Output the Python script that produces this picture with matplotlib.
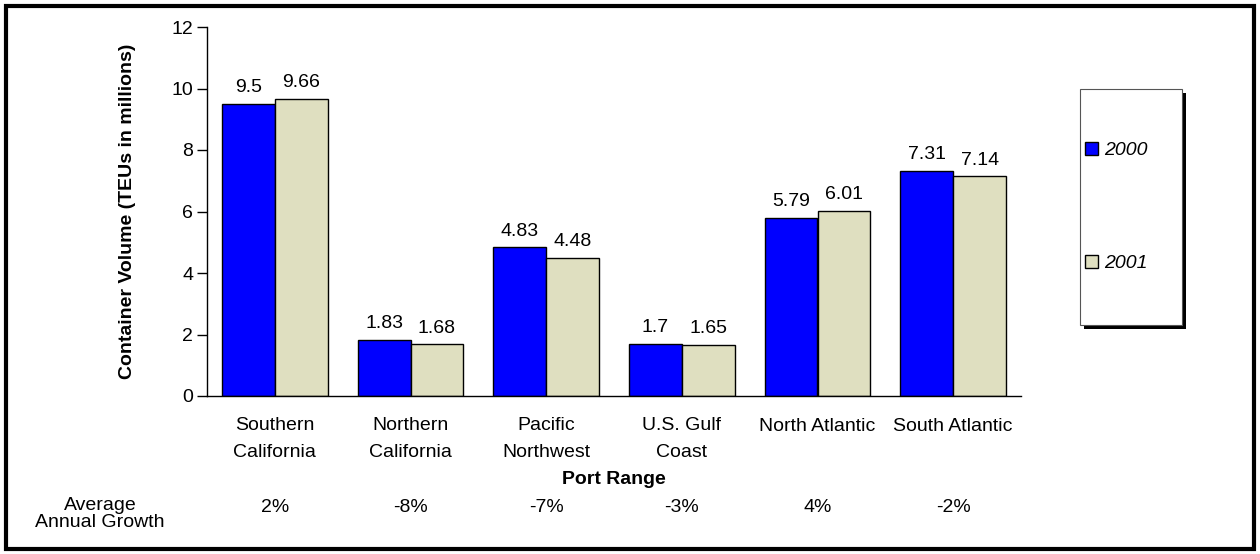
#!/usr/bin/env python3
"""Container volume by port range, 2000 vs 2001, with average annual growth row."""

import matplotlib

matplotlib.use("Agg")
import matplotlib.pyplot as plt
import matplotlib.transforms as mtransforms
import numpy as np
from matplotlib.patches import Rectangle

port_ranges = [
    "Southern\nCalifornia",
    "Northern\nCalifornia",
    "Pacific\nNorthwest",
    "U.S. Gulf\nCoast",
    "North Atlantic",
    "South Atlantic",
]
teu_2000 = [9.5, 1.83, 4.83, 1.7, 5.79, 7.31]
teu_2001 = [9.66, 1.68, 4.48, 1.65, 6.01, 7.14]
growth = ["2%", "-8%", "-7%", "-3%", "4%", "-2%"]
series_labels = ["2000", "2001"]
yticks = [0, 2, 4, 6, 8, 10, 12]

W, H = 1260, 554
FS = 14
LINE_PITCH = 26  # px between baselines of the category labels

plt.rcParams["font.family"] = ["Liberation Sans", "DejaVu Sans"]
plt.rcParams["font.size"] = FS

fig = plt.figure(figsize=(W / 100, H / 100), dpi=100)
ax = fig.add_axes([207 / W, (H - 396) / H, (1021 - 207) / W, (396 - 27) / H])

x = np.arange(len(port_ranges))
bw = 0.39
b1 = ax.bar(x - bw / 2, teu_2000, bw, color="#0000FF", edgecolor="black",
            linewidth=1, label=series_labels[0])
b2 = ax.bar(x + bw / 2, teu_2001, bw, color="#DFDFC0", edgecolor="black",
            linewidth=1, label=series_labels[1])

for bars, vals in ((b1, teu_2000), (b2, teu_2001)):
    for rect, v in zip(bars, vals):
        ax.annotate(f"{v:g}", (rect.get_x() + rect.get_width() / 2, v),
                    xytext=(0, 8.5), textcoords="offset points",
                    ha="center", va="baseline", fontsize=FS)

ax.set_xlim(-0.5, len(port_ranges) - 0.5)
ax.set_ylim(0, 12)
ax.set_yticks(yticks)
ax.tick_params(axis="y", direction="out", length=7, width=1, pad=3,
               labelsize=FS)
ax.set_xticks([])
for side in ("top", "right"):
    ax.spines[side].set_visible(False)
ax.spines["left"].set_linewidth(1)
ax.spines["bottom"].set_linewidth(1)

# category names and growth row, x in data units, y in figure units
# (va="baseline" anchors the last line, so shift by the line count)
blend = mtransforms.blended_transform_factory(ax.transData, fig.transFigure)
for i, name in enumerate(port_ranges):
    n_lines = name.count("\n") + 1
    base = 431 + LINE_PITCH * (n_lines - 1)
    ax.text(i, (H - base) / H, name, transform=blend, ha="center",
            va="baseline", fontsize=FS, linespacing=1.775,
            multialignment="center")
    ax.text(i, (H - 512) / H, growth[i], transform=blend, ha="center",
            va="baseline", fontsize=FS)

fig.text(614 / W, (H - 484) / H, "Port Range", ha="center", va="baseline",
         fontsize=FS, fontweight="bold")
fig.text(100 / W, (H - 527) / H, "Average\nAnnual Growth", ha="center",
         va="baseline", fontsize=FS, linespacing=1.02)
fig.text(128 / W, (H - 211) / H, "Container Volume (TEUs in millions)",
         rotation=90, ha="center", va="center", fontsize=FS,
         fontweight="bold")

# legend box with drop shadow
lx0, ly0, lx1, ly1 = 1080, 89, 1182, 325
fig.patches.append(Rectangle((lx0 + 4, H - ly1 - 4), lx1 - lx0, ly1 - ly0,
                             transform=None, facecolor="black",
                             edgecolor="none", zorder=1))
fig.patches.append(Rectangle((lx0, H - ly1), lx1 - lx0, ly1 - ly0,
                             transform=None, facecolor="white",
                             edgecolor="#555555", linewidth=0.8, zorder=2))
leg = fig.legend(handles=[b1, b2], loc="center left",
                 bbox_to_anchor=(1075 / W, (H - 207) / H), frameon=False,
                 borderpad=0, labelspacing=4.9, handlelength=0.7,
                 handleheight=0.7, handletextpad=0.3,
                 prop={"size": FS, "style": "italic"})
leg.set_zorder(3)

# outer frame
fig.patches.append(Rectangle((6, 5), W - 12, H - 11, transform=None,
                             facecolor="none", edgecolor="black",
                             linewidth=3, zorder=5))

fig.savefig("out.png", dpi=100)
